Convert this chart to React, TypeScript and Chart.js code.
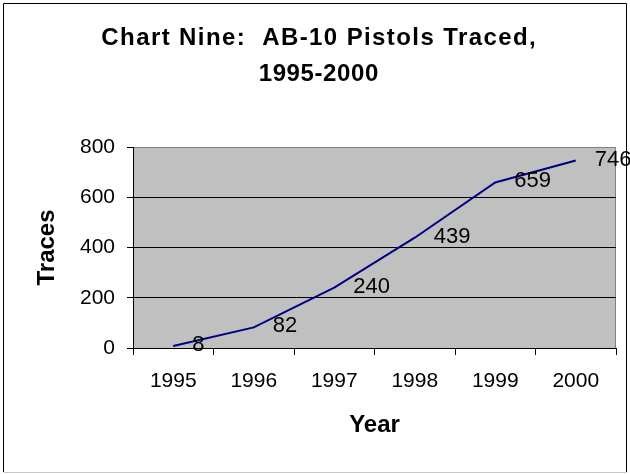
import React, { useEffect, useRef } from "react";
import { Chart, registerables } from "chart.js";

Chart.register(...registerables);

const years = ["1995", "1996", "1997", "1998", "1999", "2000"];
const traces = [8, 82, 240, 439, 659, 746];
const titleLines = ["Chart Nine:  AB-10 Pistols Traced,", "1995-2000"];
const xTitle = "Year";
const yTitle = "Traces";
const yMin = 0;
const yMax = 800;
const yStep = 200;

const FONT = "'Liberation Sans', Arial, sans-serif";

const framePlugin = {
  id: "frame",
  beforeDraw(chart: any) {
    const { ctx, chartArea } = chart;
    ctx.save();
    ctx.fillStyle = "#ffffff";
    ctx.fillRect(0, 0, chart.width, chart.height);
    ctx.fillStyle = "#c0c0c0";
    ctx.fillRect(chartArea.left, chartArea.top, chartArea.right - chartArea.left, chartArea.bottom - chartArea.top);
    ctx.strokeStyle = "#808080";
    ctx.lineWidth = 1;
    ctx.strokeRect(chartArea.left + 0.5, chartArea.top + 0.5, chartArea.right - chartArea.left - 1, chartArea.bottom - chartArea.top);
    // outer border
    ctx.strokeStyle = "#000000";
    ctx.beginPath();
    ctx.moveTo(3.5, chart.height - 2);
    ctx.lineTo(3.5, 3.5);
    ctx.lineTo(chart.width - 3.5, 3.5);
    ctx.lineTo(chart.width - 3.5, chart.height - 2);
    ctx.stroke();
    ctx.strokeStyle = "#c8c8c8";
    ctx.beginPath();
    ctx.moveTo(3.5, chart.height - 1.5);
    ctx.lineTo(chart.width - 3.5, chart.height - 1.5);
    ctx.stroke();
    // title
    ctx.fillStyle = "#000000";
    ctx.font = `bold 24px ${FONT}`;
    ctx.textAlign = "center";
    ctx.textBaseline = "alphabetic";
    const baselines = [45, 81];
    const spacing = [1.4, 0.6];
    titleLines.forEach((line, i) => {
      (ctx as any).letterSpacing = `${spacing[i]}px`;
      ctx.fillText(line, 318.5 + spacing[i] / 2, baselines[i]);
    });
    (ctx as any).letterSpacing = "0px";
    ctx.restore();
  },
};

const labelPlugin = {
  id: "valueLabels",
  afterDatasetsDraw(chart: any) {
    const { ctx } = chart;
    const meta = chart.getDatasetMeta(0);
    ctx.save();
    ctx.fillStyle = "#000000";
    ctx.font = `22px ${FONT}`;
    ctx.textAlign = "left";
    ctx.textBaseline = "middle";
    meta.data.forEach((pt: any, i: number) => {
      ctx.fillText(String(traces[i]), pt.x + 19, pt.y - 1);
    });
    ctx.restore();
  },
};

export default function App() {
  const canvasRef = useRef<HTMLCanvasElement | null>(null);

  useEffect(() => {
    document.body.style.margin = "0";
    const canvas = canvasRef.current;
    if (!canvas) return;
    const chart = new Chart(canvas, {
      type: "line",
      data: {
        labels: years,
        datasets: [
          {
            data: traces,
            borderColor: "#000080",
            borderWidth: 2,
            pointRadius: 0,
            tension: 0,
            fill: false,
          },
        ],
      },
      options: {
        responsive: false,
        animation: false,
        devicePixelRatio: 1,
        layout: { padding: { top: 147, right: 14, left: 0, bottom: 0 } },
        plugins: {
          legend: { display: false },
          title: { display: false },
          tooltip: { enabled: false },
        },
        scales: {
          x: {
            offset: true,
            grid: {
              offset: true,
              drawOnChartArea: false,
              drawTicks: true,
              tickLength: 7,
              color: "#000000",
            },
            border: { color: "#000000", width: 1 },
            ticks: {
              color: "#000000",
              font: { family: FONT, size: 21 },
              padding: 14,
              maxRotation: 0,
            },
            title: {
              display: true,
              text: xTitle,
              color: "#000000",
              font: { family: FONT, size: 24, weight: "bold" },
              padding: { top: 0, bottom: 34 },
            },
            afterFit(scale: any) {
              scale.height = 126;
            },
          },
          y: {
            min: yMin,
            max: yMax,
            grid: {
              color: (c: any) => (c.tick && c.tick.value === yMax ? "#808080" : "#000000"),
              tickColor: "#000000",
              tickLength: 6,
            },
            border: { color: "#000000", width: 1 },
            ticks: {
              stepSize: yStep,
              color: "#000000",
              font: { family: FONT, size: 21 },
              padding: 12,
            },
            title: {
              display: true,
              text: yTitle,
              color: "#000000",
              font: { family: FONT, size: 24, weight: "bold" },
              padding: { top: 33, bottom: 0 },
            },
            afterFit(scale: any) {
              scale.width = 133;
            },
          },
        },
      },
      plugins: [framePlugin, labelPlugin],
    } as any);
    return () => chart.destroy();
  }, []);

  return (
    <div style={{ position: "absolute", left: 0, top: 0, width: 630, height: 474 }}>
      <canvas ref={canvasRef} width={630} height={474} style={{ display: "block" }} />
    </div>
  );
}
